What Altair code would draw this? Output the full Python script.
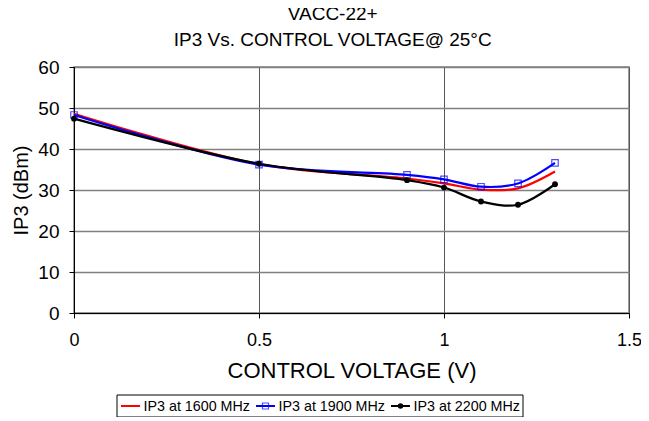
import altair as alt
import pandas as pd

# ---- data ----
voltage = [0.0, 0.5, 0.9, 1.0, 1.1, 1.2, 1.3]
ip3_1600 = [48.6, 36.3, 32.8, 31.6, 30.1, 30.4, 34.5]
ip3_1900 = [48.3, 36.2, 33.7, 32.6, 30.8, 31.6, 36.6]
ip3_2200 = [47.4, 36.4, 32.4, 30.6, 27.2, 26.4, 31.4]
series_names = ["IP3 at 1600 MHz", "IP3 at 1900 MHz", "IP3 at 2200 MHz"]
series_colors = ["#FF0000", "#0000FF", "#000000"]
x_ticks = [0, 0.5, 1, 1.5]
y_ticks = [0, 10, 20, 30, 40, 50, 60]

rows = []
for name, vals in zip(series_names, [ip3_1600, ip3_1900, ip3_2200]):
    for v, y in zip(voltage, vals):
        rows.append({"series": name, "order": series_names.index(name), "v": v, "ip3": y})
df = pd.DataFrame(rows)

FONT = "Liberation Sans"
color_scale = alt.Scale(domain=series_names, range=series_colors)

x_enc = alt.X("v:Q", scale=alt.Scale(domain=[0, 1.5], nice=False),
              axis=alt.Axis(values=x_ticks, title="CONTROL VOLTAGE (V)", format="~g",
                            titleFontSize=22, labelFontSize=18, labelFlush=False))
y_enc = alt.Y("ip3:Q", scale=alt.Scale(domain=[0, 60], nice=False),
              axis=alt.Axis(values=y_ticks, title="IP3 (dBm)", labelFlush=False))

lines = alt.Chart(df).mark_line(interpolate="catmull-rom", strokeWidth=2.2).encode(
    x=x_enc, y=y_enc,
    color=alt.Color("series:N", scale=color_scale, legend=None),
    order="order:Q",
)

blue_pts = alt.Chart(df).transform_filter(
    alt.datum.series == series_names[1]
).mark_point(shape="square", filled=False, color="#0000FF", size=42, strokeWidth=1.2).encode(
    x="v:Q", y="ip3:Q"
)

black_pts = alt.Chart(df).transform_filter(
    alt.datum.series == series_names[2]
).mark_circle(color="#000000", size=34, opacity=1).encode(
    x="v:Q", y="ip3:Q"
)

plot = alt.layer(lines, blue_pts, black_pts)

# ---- boxed legend below the axis title (pixel layout relative to the plot area) ----
leg_df = pd.DataFrame({"series": series_names, "idx": list(range(len(series_names)))})
leg_base = alt.Chart(leg_df).transform_calculate(
    x0="47 + datum.idx * 135",
    x1="66 + datum.idx * 135",
    xm="56.5 + datum.idx * 135",
    xt="69.5 + datum.idx * 135",
)
LEG_Y = 339

leg_box = alt.Chart(pd.DataFrame({"k": [0]})).mark_rect(
    fill="white", stroke="#000000", strokeWidth=1
).encode(x=alt.value(43), x2=alt.value(449), y=alt.value(328), y2=alt.value(350))

leg_lines = leg_base.mark_rule(strokeWidth=2).encode(
    x=alt.X("x0:Q", scale=None), x2="x1:Q", y=alt.value(LEG_Y),
    color=alt.Color("series:N", scale=color_scale, legend=None),
)
leg_sq = leg_base.transform_filter(alt.datum.idx == 1).mark_point(
    shape="square", filled=False, color="#0000FF", size=36, strokeWidth=1.2
).encode(x=alt.X("xm:Q", scale=None), y=alt.value(LEG_Y))
leg_circ = leg_base.transform_filter(alt.datum.idx == 2).mark_circle(
    color="#000000", size=30, opacity=1
).encode(x=alt.X("xm:Q", scale=None), y=alt.value(LEG_Y))
leg_text = leg_base.mark_text(
    align="left", baseline="middle", font=FONT, fontSize=14.3, color="#000000"
).encode(x=alt.X("xt:Q", scale=None), y=alt.value(LEG_Y + 1), text="series:N")

legend = alt.layer(leg_box, leg_lines, leg_sq, leg_circ, leg_text)

chart = alt.layer(plot, legend).resolve_scale(
    x="independent", y="independent"
).properties(
    width=555, height=246,
    title=alt.TitleParams(text=["VACC-22+", "IP3 Vs. CONTROL VOLTAGE@ 25°C"],
                          font=FONT, fontSize=19, fontWeight="normal", color="#000000",
                          anchor="middle", frame="bounds", offset=8, lineHeight=26, dx=6),
    autosize=alt.AutoSizeParams(type="none"),
    padding={"left": 66, "top": 59, "right": 12, "bottom": 104},
).configure_view(
    stroke="#808080", strokeWidth=1.5
).configure_axis(
    labelFont=FONT, titleFont=FONT, labelFontSize=19, titleFontSize=20,
    labelColor="#000000", titleColor="#000000", titleFontWeight="normal",
    domainColor="#000000", tickColor="#000000", tickSize=5,
    gridColor="#808080", gridWidth=1.5,
).configure_axisX(
    labelPadding=13, titlePadding=11, grid=True, gridColor="#555555", gridWidth=1,
).configure_axisY(
    labelPadding=10, titlePadding=6, grid=True,
)

chart.save("out.html", embed_options={"renderer": "svg", "actions": False})
